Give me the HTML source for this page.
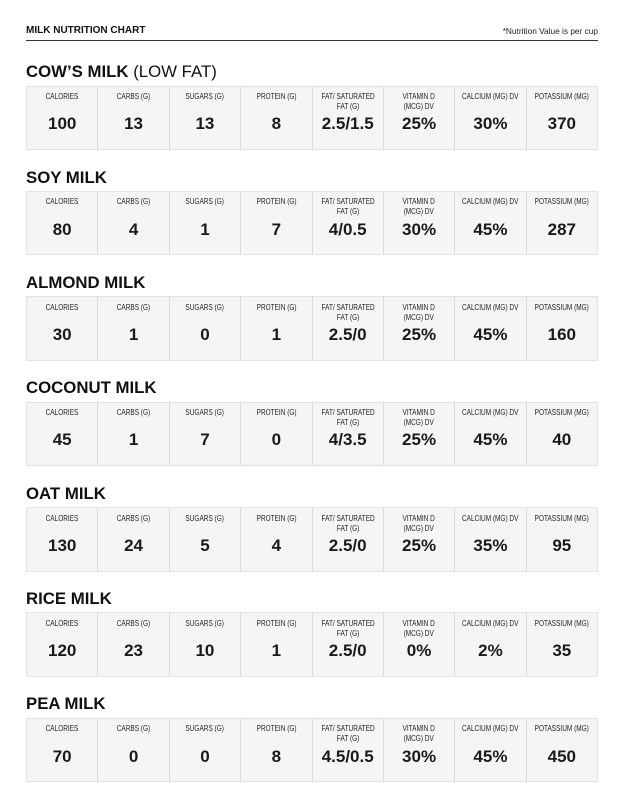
<!DOCTYPE html>
<html><head><meta charset="utf-8">
<style>
html,body{margin:0;padding:0;background:#fff;}
body{width:624px;height:808px;position:relative;overflow:hidden;font-family:"Liberation Sans",Arial,sans-serif;color:#111;}
.hl{position:absolute;left:26px;top:24px;font-size:10px;font-weight:bold;line-height:14px;color:#111;}
.hr{position:absolute;right:26px;top:25px;font-size:8.3px;line-height:12px;color:#222;}
.rule{position:absolute;left:26px;top:40px;width:572px;height:1.4px;background:#333;}
.sec{position:absolute;left:26px;width:572px;height:65px;}
.t{position:absolute;left:0;top:-22.4px;font-size:16.8px;line-height:17px;font-weight:bold;white-space:nowrap;color:#111;}
.t span{font-weight:normal;}
.tb{position:absolute;left:0;top:0;width:572px;height:64.5px;background:#f5f5f5;border:1px solid #e2e2e2;box-sizing:border-box;display:flex;}
.c{flex:1;position:relative;border-left:1px solid #d9d9d9;}
.c:first-child{border-left:none;}
.l{position:absolute;left:-6px;right:-6px;top:4.5px;text-align:center;font-size:8.3px;line-height:10px;color:#1e1e1e;white-space:nowrap;}
.l span{display:inline-block;transform:scaleX(0.78);transform-origin:center;}
.v{position:absolute;left:0;right:0;top:27.8px;text-align:center;font-size:17px;line-height:20px;font-weight:bold;color:#1a1a1a;}
</style></head><body>
<div class="hl">MILK NUTRITION CHART</div>
<div class="hr">*Nutrition Value is per cup</div>
<div class="rule"></div>

<div class="sec" style="top:85.5px">
<div class="t">COW’S MILK <span>(LOW FAT)</span></div>
<div class="tb">
<div class="c"><div class="l"><span>CALORIES</span></div><div class="v">100</div></div>
<div class="c"><div class="l"><span>CARBS (G)</span></div><div class="v">13</div></div>
<div class="c"><div class="l"><span>SUGARS (G)</span></div><div class="v">13</div></div>
<div class="c"><div class="l"><span>PROTEIN (G)</span></div><div class="v">8</div></div>
<div class="c"><div class="l"><span>FAT/ SATURATED<br>FAT (G)</span></div><div class="v">2.5/1.5</div></div>
<div class="c"><div class="l"><span>VITAMIN D<br>(MCG) DV</span></div><div class="v">25%</div></div>
<div class="c"><div class="l"><span>CALCIUM (MG) DV</span></div><div class="v">30%</div></div>
<div class="c"><div class="l"><span>POTASSIUM (MG)</span></div><div class="v">370</div></div>
</div></div>

<div class="sec" style="top:190.9px">
<div class="t">SOY MILK</div>
<div class="tb">
<div class="c"><div class="l"><span>CALORIES</span></div><div class="v">80</div></div>
<div class="c"><div class="l"><span>CARBS (G)</span></div><div class="v">4</div></div>
<div class="c"><div class="l"><span>SUGARS (G)</span></div><div class="v">1</div></div>
<div class="c"><div class="l"><span>PROTEIN (G)</span></div><div class="v">7</div></div>
<div class="c"><div class="l"><span>FAT/ SATURATED<br>FAT (G)</span></div><div class="v">4/0.5</div></div>
<div class="c"><div class="l"><span>VITAMIN D<br>(MCG) DV</span></div><div class="v">30%</div></div>
<div class="c"><div class="l"><span>CALCIUM (MG) DV</span></div><div class="v">45%</div></div>
<div class="c"><div class="l"><span>POTASSIUM (MG)</span></div><div class="v">287</div></div>
</div></div>

<div class="sec" style="top:296.3px">
<div class="t">ALMOND MILK</div>
<div class="tb">
<div class="c"><div class="l"><span>CALORIES</span></div><div class="v">30</div></div>
<div class="c"><div class="l"><span>CARBS (G)</span></div><div class="v">1</div></div>
<div class="c"><div class="l"><span>SUGARS (G)</span></div><div class="v">0</div></div>
<div class="c"><div class="l"><span>PROTEIN (G)</span></div><div class="v">1</div></div>
<div class="c"><div class="l"><span>FAT/ SATURATED<br>FAT (G)</span></div><div class="v">2.5/0</div></div>
<div class="c"><div class="l"><span>VITAMIN D<br>(MCG) DV</span></div><div class="v">25%</div></div>
<div class="c"><div class="l"><span>CALCIUM (MG) DV</span></div><div class="v">45%</div></div>
<div class="c"><div class="l"><span>POTASSIUM (MG)</span></div><div class="v">160</div></div>
</div></div>

<div class="sec" style="top:401.6px">
<div class="t">COCONUT MILK</div>
<div class="tb">
<div class="c"><div class="l"><span>CALORIES</span></div><div class="v">45</div></div>
<div class="c"><div class="l"><span>CARBS (G)</span></div><div class="v">1</div></div>
<div class="c"><div class="l"><span>SUGARS (G)</span></div><div class="v">7</div></div>
<div class="c"><div class="l"><span>PROTEIN (G)</span></div><div class="v">0</div></div>
<div class="c"><div class="l"><span>FAT/ SATURATED<br>FAT (G)</span></div><div class="v">4/3.5</div></div>
<div class="c"><div class="l"><span>VITAMIN D<br>(MCG) DV</span></div><div class="v">25%</div></div>
<div class="c"><div class="l"><span>CALCIUM (MG) DV</span></div><div class="v">45%</div></div>
<div class="c"><div class="l"><span>POTASSIUM (MG)</span></div><div class="v">40</div></div>
</div></div>

<div class="sec" style="top:507px">
<div class="t">OAT MILK</div>
<div class="tb">
<div class="c"><div class="l"><span>CALORIES</span></div><div class="v">130</div></div>
<div class="c"><div class="l"><span>CARBS (G)</span></div><div class="v">24</div></div>
<div class="c"><div class="l"><span>SUGARS (G)</span></div><div class="v">5</div></div>
<div class="c"><div class="l"><span>PROTEIN (G)</span></div><div class="v">4</div></div>
<div class="c"><div class="l"><span>FAT/ SATURATED<br>FAT (G)</span></div><div class="v">2.5/0</div></div>
<div class="c"><div class="l"><span>VITAMIN D<br>(MCG) DV</span></div><div class="v">25%</div></div>
<div class="c"><div class="l"><span>CALCIUM (MG) DV</span></div><div class="v">35%</div></div>
<div class="c"><div class="l"><span>POTASSIUM (MG)</span></div><div class="v">95</div></div>
</div></div>

<div class="sec" style="top:612.4px">
<div class="t">RICE MILK</div>
<div class="tb">
<div class="c"><div class="l"><span>CALORIES</span></div><div class="v">120</div></div>
<div class="c"><div class="l"><span>CARBS (G)</span></div><div class="v">23</div></div>
<div class="c"><div class="l"><span>SUGARS (G)</span></div><div class="v">10</div></div>
<div class="c"><div class="l"><span>PROTEIN (G)</span></div><div class="v">1</div></div>
<div class="c"><div class="l"><span>FAT/ SATURATED<br>FAT (G)</span></div><div class="v">2.5/0</div></div>
<div class="c"><div class="l"><span>VITAMIN D<br>(MCG) DV</span></div><div class="v">0%</div></div>
<div class="c"><div class="l"><span>CALCIUM (MG) DV</span></div><div class="v">2%</div></div>
<div class="c"><div class="l"><span>POTASSIUM (MG)</span></div><div class="v">35</div></div>
</div></div>

<div class="sec" style="top:717.8px">
<div class="t">PEA MILK</div>
<div class="tb">
<div class="c"><div class="l"><span>CALORIES</span></div><div class="v">70</div></div>
<div class="c"><div class="l"><span>CARBS (G)</span></div><div class="v">0</div></div>
<div class="c"><div class="l"><span>SUGARS (G)</span></div><div class="v">0</div></div>
<div class="c"><div class="l"><span>PROTEIN (G)</span></div><div class="v">8</div></div>
<div class="c"><div class="l"><span>FAT/ SATURATED<br>FAT (G)</span></div><div class="v">4.5/0.5</div></div>
<div class="c"><div class="l"><span>VITAMIN D<br>(MCG) DV</span></div><div class="v">30%</div></div>
<div class="c"><div class="l"><span>CALCIUM (MG) DV</span></div><div class="v">45%</div></div>
<div class="c"><div class="l"><span>POTASSIUM (MG)</span></div><div class="v">450</div></div>
</div></div>

</body></html>
